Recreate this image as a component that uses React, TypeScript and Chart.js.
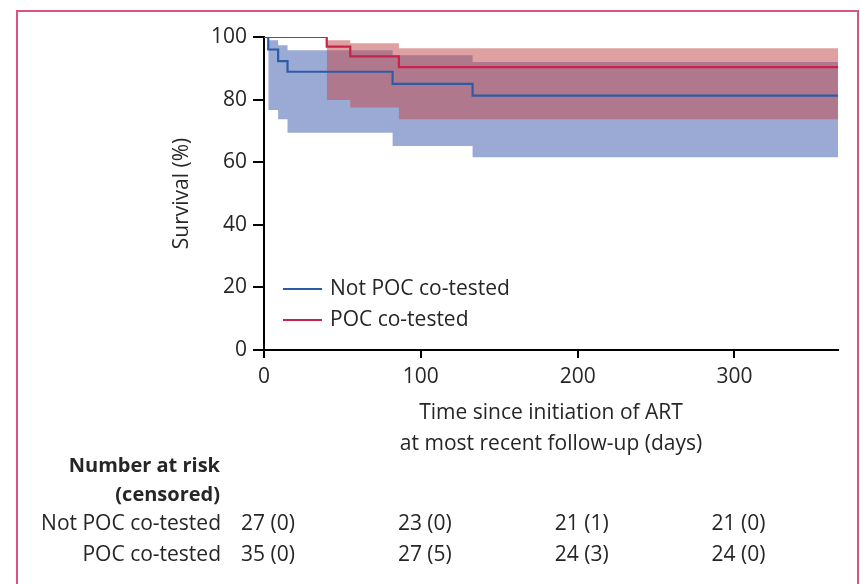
import React, { useEffect, useRef } from 'react';
import { Chart, registerables } from 'chart.js';

Chart.register(...registerables);

const FONT = '"Open Sans", "DejaVu Sans", sans-serif';
const TEXT = '#262626';

// Series names
const seriesNames = ['Not POC co-tested', 'POC co-tested'];

// Kaplan-Meier estimate, Not POC co-tested
const notPocTimes = [0, 2.7, 9, 15, 82, 133, 366];
const notPocSurvival = [100, 96, 92.3, 88.9, 85.0, 81.3, 81.3];
// 95% CI, Not POC co-tested
const notPocCiTimes = [2.7, 9, 15, 82, 133, 366];
const notPocUpper = [99, 97.4, 95.8, 94.2, 92, 92];
const notPocLower = [76.7, 73.7, 69.4, 65.2, 61.6, 61.6];

// Kaplan-Meier estimate, POC co-tested
const pocTimes = [0, 40, 55, 86, 366];
const pocSurvival = [100, 96.9, 93.8, 90.4, 90.4];
// 95% CI, POC co-tested
const pocCiTimes = [40, 55, 86, 366];
const pocUpper = [99, 98, 96.4, 96.4];
const pocLower = [79.9, 77.5, 73.7, 73.7];

// Axes
const xTicks = [0, 100, 200, 300];
const yTicks = [0, 20, 40, 60, 80, 100];
const xMax = 366;
const yTitle = 'Survival (%)';
const xTitleLines = ['Time since initiation of ART', 'at most recent follow-up (days)'];

// Number at risk table
const riskHeader = ['Number at risk', '(censored)'];
const riskTimes = [0, 100, 200, 300];
const notPocRisk = ['27 (0)', '23 (0)', '21 (1)', '21 (0)'];
const pocRisk = ['35 (0)', '27 (5)', '24 (3)', '24 (0)'];

const BLUE = '#2d5ca6';
const RED = '#c8234b';
const BLUE_FILL = 'rgba(66, 94, 174, 0.53)';
const RED_FILL = 'rgba(193, 76, 76, 0.53)';

const pts = (xs: number[], ys: number[]) => xs.map((x, i) => ({ x, y: ys[i] }));

const overlayPlugin = {
  id: 'overlay',
  beforeDraw(chart: any) {
    const ctx = chart.ctx;
    ctx.save();
    ctx.fillStyle = '#ffffff';
    ctx.fillRect(0, 0, chart.width, chart.height);
    ctx.restore();
  },
  afterDraw(chart: any) {
    const ctx = chart.ctx;
    const xs = chart.scales.x;
    const area = chart.chartArea;
    ctx.save();

    // frame
    ctx.strokeStyle = '#d9557f';
    ctx.lineWidth = 2;
    ctx.beginPath();
    ctx.moveTo(17, 600);
    ctx.lineTo(17, 11);
    ctx.lineTo(858, 11);
    ctx.lineTo(858, 600);
    ctx.stroke();

    ctx.fillStyle = TEXT;
    // y title
    ctx.save();
    ctx.translate(182, (area.top + area.bottom) / 2);
    ctx.rotate(-Math.PI / 2);
    ctx.font = `21px ${FONT}`;
    ctx.textAlign = 'center';
    ctx.textBaseline = 'middle';
    ctx.fillText(yTitle, 0, 0);
    ctx.restore();

    // x title
    ctx.font = `21px ${FONT}`;
    ctx.textAlign = 'center';
    ctx.textBaseline = 'middle';
    const cx = (area.left + area.right) / 2;
    xTitleLines.forEach((t, i) => ctx.fillText(t, cx, 413 + i * 31));

    // legend
    const legColors = [BLUE, RED];
    seriesNames.forEach((name, i) => {
      const ly = 289 + i * 31;
      ctx.strokeStyle = legColors[i];
      ctx.lineWidth = 2;
      ctx.beginPath();
      ctx.moveTo(area.left + 19, ly);
      ctx.lineTo(area.left + 58, ly);
      ctx.stroke();
      ctx.fillStyle = TEXT;
      ctx.textAlign = 'left';
      ctx.font = `21px ${FONT}`;
      ctx.fillText(name, area.left + 66, ly);
    });

    // risk table
    ctx.textAlign = 'right';
    ctx.font = `bold 20px ${FONT}`;
    riskHeader.forEach((t, i) => ctx.fillText(t, 220, 466 + i * 29));
    ctx.font = `21px ${FONT}`;
    const rows = [notPocRisk, pocRisk];
    rows.forEach((row, r) => {
      const ry = 524 + r * 31;
      ctx.textAlign = 'right';
      ctx.fillText(seriesNames[r], 221, ry);
      ctx.textAlign = 'center';
      row.forEach((v, i) => ctx.fillText(v, xs.getPixelForValue(riskTimes[i]) + 4, ry));
    });
    ctx.restore();
  },
};

export default function App() {
  const ref = useRef<HTMLCanvasElement | null>(null);
  useEffect(() => {
    if (!ref.current) return;
    const lineBase = { pointRadius: 0, stepped: 'before', fill: false, borderWidth: 2.2 };
    const bandBase = {
      pointRadius: 0,
      stepped: 'before',
      borderWidth: 0,
      borderColor: 'rgba(0,0,0,0)',
    };
    const chart = new Chart(ref.current, {
      type: 'line',
      data: {
        datasets: [
          { ...lineBase, label: seriesNames[0], data: pts(notPocTimes, notPocSurvival), borderColor: BLUE, order: 0 },
          { ...lineBase, label: seriesNames[1], data: pts(pocTimes, pocSurvival), borderColor: RED, order: 0 },
          { ...bandBase, label: 'poc-upper', data: pts(pocCiTimes, pocUpper), fill: '+1', backgroundColor: RED_FILL, order: 1 },
          { ...bandBase, label: 'poc-lower', data: pts(pocCiTimes, pocLower), fill: false, order: 1 },
          { ...bandBase, label: 'notpoc-upper', data: pts(notPocCiTimes, notPocUpper), fill: '+1', backgroundColor: BLUE_FILL, order: 2 },
          { ...bandBase, label: 'notpoc-lower', data: pts(notPocCiTimes, notPocLower), fill: false, order: 2 },
        ] as any,
      },
      options: {
        animation: false,
        responsive: false,
        maintainAspectRatio: false,
        layout: { padding: { left: 0, top: 37, right: 22, bottom: 194 } },
        plugins: { legend: { display: false }, tooltip: { enabled: false }, title: { display: false } },
        scales: {
          x: {
            type: 'linear',
            min: 0,
            max: xMax,
            afterBuildTicks: (s: any) => { s.ticks = xTicks.map((v) => ({ value: v })); },
            afterFit: (s: any) => { s.height = 40; },
            grid: { display: true, drawOnChartArea: false, drawTicks: true, tickLength: 8, color: '#000', lineWidth: 2 },
            border: { display: true, color: '#000', width: 2 },
            ticks: { color: TEXT, font: { family: FONT, size: 21 }, padding: 6, maxRotation: 0, autoSkip: false },
          },
          y: {
            type: 'linear',
            min: 0,
            max: 100,
            afterBuildTicks: (s: any) => { s.ticks = yTicks.map((v) => ({ value: v })); },
            afterFit: (s: any) => { s.width = 264; },
            grid: { display: true, drawOnChartArea: false, drawTicks: true, tickLength: 11, color: '#000', lineWidth: 2 },
            border: { display: true, color: '#000', width: 2 },
            ticks: { color: TEXT, font: { family: FONT, size: 21 }, padding: 6 },
          },
        },
      } as any,
      plugins: [overlayPlugin],
    });
    return () => chart.destroy();
  }, []);
  return (
    <div style={{ position: 'fixed', left: 0, top: 0, width: 860, height: 584, overflow: 'hidden' }}>
      <canvas ref={ref} width={860} height={584} style={{ display: 'block', width: 860, height: 584 }} />
    </div>
  );
}
